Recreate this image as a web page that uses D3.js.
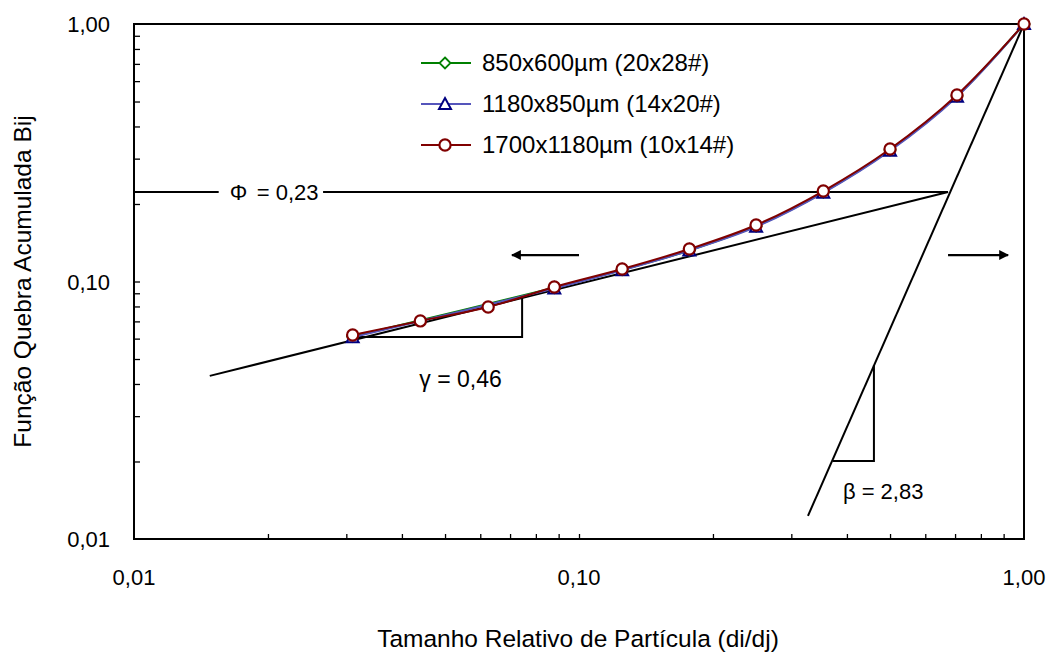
<!DOCTYPE html>
<html lang="pt">
<head>
<meta charset="utf-8">
<title>Função Quebra Acumulada</title>
<script src="https://cdn.jsdelivr.net/npm/d3@7"></script>
<style>
  body { margin: 0; background: #fff; }
  text { font-family: "Liberation Sans", Arial, sans-serif; fill: #000; }
</style>
</head>
<body>
<div id="chart"></div>
<script>
  // data (log-log)
  const xTicks = [0.01, 0.1, 1];
  const yTicks = [0.01, 0.1, 1];
  const tickLabels = ['0,01', '0,10', '1,00'];

  const seriesNames = ['850x600µm (20x28#)', '1180x850µm (14x20#)', '1700x1180µm (10x14#)'];

  const xGreen = [1, 0.707, 0.5, 0.354, 0.25, 0.177, 0.125, 0.088, 0.031];
  const yGreen = [1.0, 0.525, 0.324, 0.222, 0.164, 0.132, 0.111, 0.0945, 0.0612];

  const xBlue = [1, 0.707, 0.5, 0.354, 0.25, 0.177, 0.125, 0.088, 0.031];
  const yBlue = [1.0, 0.522, 0.322, 0.221, 0.163, 0.132, 0.1105, 0.094, 0.0607];

  const xRed = [1, 0.707, 0.5, 0.354, 0.25, 0.177, 0.125, 0.088, 0.0625, 0.044, 0.031];
  const yRed = [1.0, 0.530, 0.327, 0.2246, 0.1657, 0.1337, 0.1118, 0.0952, 0.0796, 0.0703, 0.0620];

  // annotation lines, in data units
  const gammaLine = [[0.0148, 0.0430], [0.675, 0.2227]];
  const betaLine = [[0.327, 0.0123], [1, 1]];
  const phiLeft = [[0.01, 0.2227], [0.0155, 0.2227]];
  const phiRight = [[0.0266, 0.2227], [0.675, 0.2227]];
  const gammaTri = [[0.0311, 0.0609], [0.0745, 0.0609], [0.0745, 0.0863]];
  const betaTri = [[0.372, 0.0201], [0.460, 0.0201], [0.460, 0.0474]];
  const arrowLeft = [[0.1, 0.1267], [0.0707, 0.1267]];
  const arrowRight = [[0.675, 0.1267], [0.921, 0.1267]];
  const dropLine = [[1, 1], [1, 0.01]];

  const width = 1051, height = 657;
  const margin = { top: 24, right: 27, bottom: 118, left: 134 };
  const chartWidth = width - margin.left - margin.right;
  const chartHeight = height - margin.top - margin.bottom;

  const svg = d3.select('#chart').append('svg').attr('width', width).attr('height', height);
  const g = svg.append('g').attr('transform', `translate(${margin.left},${margin.top})`);

  const x = d3.scaleLog().domain([0.01, 1]).range([0, chartWidth]);
  const y = d3.scaleLog().domain([0.01, 1]).range([chartHeight, 0]);

  // minor + major ticks, pointing inward
  const minorX = [], minorY = [];
  [0.01, 0.1].forEach(base => { for (let k = 2; k <= 9; k++) { minorX.push(base * k); minorY.push(base * k); } });
  minorX.push(0.1); minorY.push(0.1);

  g.append('g').attr('transform', `translate(0,${chartHeight})`)
    .call(d3.axisTop(x).tickValues(minorX).tickSize(5).tickFormat(''))
    .call(a => a.select('.domain').remove())
    .selectAll('line').attr('stroke', '#000').attr('stroke-width', 1.3);

  g.append('g')
    .call(d3.axisRight(y).tickValues(minorY).tickSize(6).tickFormat(''))
    .call(a => a.select('.domain').remove())
    .selectAll('line').attr('stroke', '#000').attr('stroke-width', 1.3);

  g.append('rect').attr('width', chartWidth).attr('height', chartHeight)
    .attr('fill', 'none').attr('stroke', '#000').attr('stroke-width', 2);

  // tick labels
  g.selectAll('text.xt').data(xTicks).enter().append('text')
    .attr('x', d => x(d)).attr('y', chartHeight + 46)
    .attr('text-anchor', 'middle').attr('font-size', 22)
    .text((d, i) => tickLabels[i]);

  g.selectAll('text.yt').data(yTicks).enter().append('text')
    .attr('x', -24).attr('y', d => y(d) + 8)
    .attr('text-anchor', 'end').attr('font-size', 22)
    .text((d, i) => tickLabels[i]);

  // axis titles
  svg.append('text').attr('x', margin.left + chartWidth / 2 - 1).attr('y', 647)
    .attr('text-anchor', 'middle').attr('font-size', 24.5)
    .text('Tamanho Relativo de Partícula (di/dj)');
  svg.append('text').attr('transform', `translate(31,${margin.top + chartHeight / 2}) rotate(-90)`)
    .attr('text-anchor', 'middle').attr('font-size', 24.5)
    .text('Função Quebra Acumulada Bij');

  const line = d3.line().x(d => x(d[0])).y(d => y(d[1]));
  const smooth = d3.line().x(d => x(d[0])).y(d => y(d[1])).curve(d3.curveCatmullRom.alpha(0.5));

  // annotation lines
  [gammaLine, betaLine, phiLeft, phiRight, gammaTri, betaTri, dropLine].forEach(pts => {
    g.append('path').attr('d', line(pts)).attr('fill', 'none')
      .attr('stroke', '#000').attr('stroke-width', 2);
  });

  svg.append('defs').append('marker').attr('id', 'arrow')
    .attr('viewBox', '0 0 10 10').attr('refX', 9).attr('refY', 5)
    .attr('markerWidth', 4.5).attr('markerHeight', 4.5).attr('orient', 'auto')
    .append('path').attr('d', 'M0,0 L10,5 L0,10 z').attr('fill', '#000');

  [arrowLeft, arrowRight].forEach(pts => {
    g.append('path').attr('d', line(pts)).attr('fill', 'none')
      .attr('stroke', '#000').attr('stroke-width', 2.2).attr('marker-end', 'url(#arrow)');
  });

  // annotation text
  g.append('text').attr('x', x(0.0155) + 11).attr('y', y(0.2227) + 8).attr('font-size', 22)
    .text('Φ');
  g.append('text').attr('x', x(0.0155) + 38).attr('y', y(0.2227) + 8).attr('font-size', 22)
    .text('= 0,23');
  g.append('text').attr('x', x(0.0311) + 66).attr('y', y(0.0609) + 50).attr('font-size', 23)
    .text('γ = 0,46');
  g.append('text').attr('x', x(0.372) + 10).attr('y', y(0.0201) + 38).attr('font-size', 22)
    .text('β = 2,83');

  // series
  const series = [
    { xs: xGreen, ys: yGreen, line: '#008000', mark: '#008000', shape: 'diamond' },
    { xs: xBlue, ys: yBlue, line: '#5555bb', mark: '#000080', shape: 'triangle' },
    { xs: xRed, ys: yRed, line: '#800000', mark: '#800000', shape: 'circle' }
  ];

  function drawMarker(sel, shape, color) {
    if (shape === 'circle') {
      sel.append('circle').attr('r', 5.6).attr('fill', '#fff').attr('stroke', color).attr('stroke-width', 2.2);
    } else if (shape === 'triangle') {
      sel.append('path').attr('d', 'M0,-6 L6,5 L-6,5 Z').attr('fill', '#fff').attr('stroke', color).attr('stroke-width', 2);
    } else {
      sel.append('path').attr('d', 'M0,-5.5 L5.5,0 L0,5.5 L-5.5,0 Z').attr('fill', '#fff').attr('stroke', color).attr('stroke-width', 1.8);
    }
  }

  series.forEach(s => {
    const pts = s.xs.map((v, i) => [v, s.ys[i]]);
    g.append('path').attr('d', smooth(pts)).attr('fill', 'none')
      .attr('stroke', s.line).attr('stroke-width', 2);
    pts.forEach(p => {
      const m = g.append('g').attr('transform', `translate(${x(p[0])},${y(p[1])})`);
      drawMarker(m, s.shape, s.mark);
    });
  });

  // legend
  const legend = svg.append('g').attr('transform', 'translate(421,63)');
  series.forEach((s, i) => {
    const row = legend.append('g').attr('transform', `translate(0,${i * 41})`);
    row.append('line').attr('x1', 0).attr('x2', 50).attr('stroke', s.line).attr('stroke-width', 2);
    drawMarker(row.append('g').attr('transform', 'translate(24,0)'), s.shape, s.mark);
    row.append('text').attr('x', 61).attr('y', 8).attr('font-size', 24).text(seriesNames[i]);
  });
</script>
</body>
</html>
